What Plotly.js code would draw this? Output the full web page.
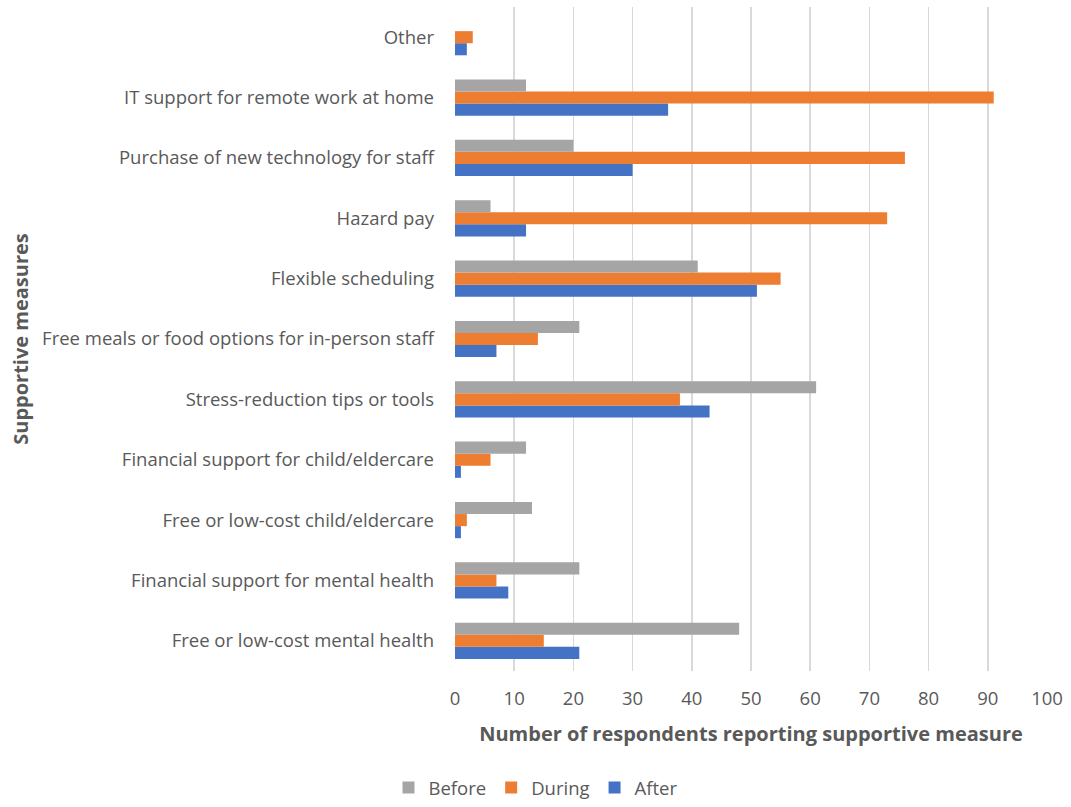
<!DOCTYPE html>
<html>
<head>
<meta charset="utf-8">
<script src="https://cdn.plot.ly/plotly-3.0.1.min.js"></script>
<style>html,body{margin:0;padding:0;background:#fff;}#chart{width:1071px;height:807px;}</style>
</head>
<body>
<div id="chart"></div>
<script>
// Categories listed bottom to top
const categories = [
  "Free or low-cost mental health",
  "Financial support for mental health",
  "Free or low-cost child/eldercare",
  "Financial support for child/eldercare",
  "Stress-reduction tips or tools",
  "Free meals or food options for in-person staff",
  "Flexible scheduling",
  "Hazard pay",
  "Purchase of new technology for staff",
  "IT support for remote work at home",
  "Other"
];
const beforeVals = [48, 21, 13, 12, 61, 21, 41, 6, 20, 12, 0];
const duringVals = [15, 7, 2, 6, 38, 14, 55, 73, 76, 91, 3];
const afterVals  = [21, 9, 1, 1, 43, 7, 51, 12, 30, 36, 2];
const xTicks = [0, 10, 20, 30, 40, 50, 60, 70, 80, 90, 100];

const font = "'Open Sans', sans-serif";
const traces = [
  {name: "After", type: "bar", orientation: "h", y: categories, x: afterVals, marker: {color: "#4472c4"}},
  {name: "During", type: "bar", orientation: "h", y: categories, x: duringVals, marker: {color: "#ed7d31"}},
  {name: "Before", type: "bar", orientation: "h", y: categories, x: beforeVals, marker: {color: "#a5a5a5"}}
];
const layout = {
  width: 1071, height: 807,
  margin: {l: 455, r: 24, t: 7, b: 136},
  barmode: "group",
  bargap: 0.4,
  bargroupgap: 0,
  paper_bgcolor: "#fff",
  plot_bgcolor: "#fff",
  font: {family: font, color: "#595959", size: 18.5},
  xaxis: {
    range: [0, 100],
    tickvals: xTicks,
    ticktext: xTicks.map(String),
    showgrid: true, gridcolor: "#d9d9d9", gridwidth: 1.5,
    zeroline: false, showline: false,
    ticks: "",
    ticklabelstandoff: 14,
    tickfont: {size: 18.5, color: "#595959"},
    title: {text: "Number of respondents reporting supportive measure", font: {size: 20, color: "#595959", family: font, weight: "bold"}, standoff: 18},
    fixedrange: true
  },
  yaxis: {
    type: "category",
    categoryorder: "array",
    categoryarray: categories,
    showgrid: false, zeroline: false, showline: false,
    ticks: "",
    ticklabelstandoff: 20,
    tickfont: {size: 18.5, color: "#595959"},
    title: {text: "Supportive measures", font: {size: 20, color: "#595959", family: font, weight: "bold"}, standoff: 8},
    fixedrange: true
  },
  legend: {
    orientation: "h",
    traceorder: "reversed",
    x: 0.5, xref: "container", xanchor: "center",
    y: -0.008, yref: "container", yanchor: "bottom",
    font: {size: 18.5, color: "#595959"},
    itemwidth: 30
  },
  showlegend: true
};
Plotly.newPlot("chart", traces, layout, {displayModeBar: false, staticPlot: true});
</script>
</body>
</html>
